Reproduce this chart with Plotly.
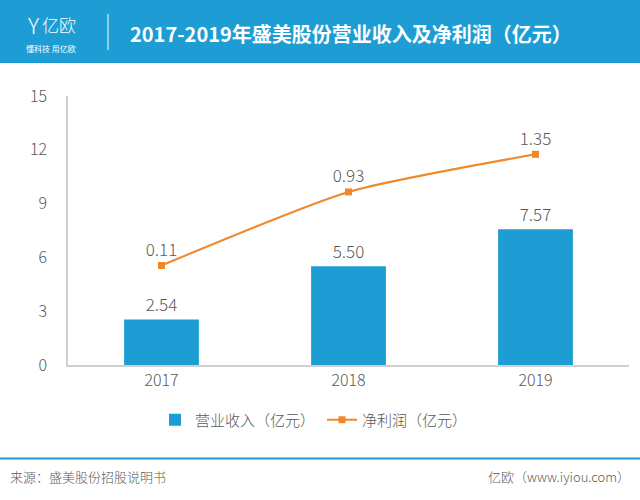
import plotly.graph_objects as go

years = ["2017", "2018", "2019"]
revenue = [2.54, 5.50, 7.57]
profit = [0.11, 0.93, 1.35]
y_ticks = [0, 3, 6, 9, 12, 15]

W, H = 640, 500
L, R, T, B = 68, 11, 96, 135
PW, PH = W - L - R, H - T - B

def px(x):
    return (x - L) / PW

def py(y):
    return (H - B - y) / PH

BLUE = "#1E9DD5"
ORANGE = "#F0872A"
GRAY = "#595959"
FONT = "Noto Sans CJK SC"

fig = go.Figure()
fig.add_trace(go.Bar(
    x=years, y=revenue, name="营业收入（亿元）",
    marker=dict(color=BLUE, line=dict(width=0)),
    text=[f"{v:.2f}" for v in revenue], textposition="outside",
    textfont=dict(size=17, color=GRAY, family=FONT, weight=300),
    cliponaxis=False,
))
fig.add_trace(go.Scatter(
    x=years, y=profit, name="净利润（亿元）", yaxis="y2",
    mode="lines+markers+text",
    line=dict(color=ORANGE, width=2, shape="spline", smoothing=0.6),
    marker=dict(symbol="square", size=7, color=ORANGE),
    text=[f"{v:.2f}" for v in profit], textposition="top center",
    textfont=dict(size=17, color=GRAY, family=FONT, weight=300),
    cliponaxis=False,
))

shapes = [
    dict(type="rect", xref="paper", yref="paper", x0=px(0), x1=px(W), y0=py(0), y1=py(63),
         fillcolor=BLUE, line=dict(width=0), layer="below"),
    dict(type="line", xref="paper", yref="paper", x0=px(108), x1=px(108), y0=py(14), y1=py(50),
         line=dict(color="white", width=1)),
    dict(type="line", xref="paper", yref="paper", x0=px(0), x1=px(W), y0=py(458.5), y1=py(458.5),
         line=dict(color=BLUE, width=2)),
]

def ann(text, x, y, xanchor, size, color, weight=None):
    f = dict(size=size, color=color, family=FONT)
    if weight:
        f["weight"] = weight
    return dict(text=text, x=px(x), y=py(y), xref="paper", yref="paper",
                xanchor=xanchor, yanchor="middle", showarrow=False, font=f)

annotations = [
    ann("<b>2017-2019年盛美股份营业收入及净利润（亿元）</b>", 128, 33, "left", 20, "white"),
    ann("Y", 33, 24, "center", 22, "white", 300),
    ann("亿欧", 40, 25, "left", 17, "white", 300),
    ann("懂科技 用亿欧", 24, 48, "left", 8, "white"),
    ann("来源：盛美股份招股说明书", 8, 476, "left", 13, GRAY, 300),
    ann("亿欧（www.iyiou.com）", 632, 476, "right", 13, GRAY, 300),
]

fig.update_layout(
    width=W, height=H,
    margin=dict(l=L, r=R, t=T, b=B, autoexpand=False),
    paper_bgcolor="white", plot_bgcolor="white",
    bargap=0.6,
    showlegend=True,
    legend=dict(orientation="h", x=px(155), y=py(420), xanchor="left", yanchor="middle",
                font=dict(size=15, color=GRAY, family=FONT, weight=300),
                itemwidth=30, tracegroupgap=0, entrywidthmode="pixels", entrywidth=122),
    xaxis=dict(showgrid=False, showline=True, linecolor="#D0D0D0", linewidth=1.5,
               ticks="", tickfont=dict(size=16, color=GRAY, family=FONT, weight=300)),
    yaxis=dict(range=[0, 15], tickvals=y_ticks, showgrid=False, showline=True,
               linecolor="#D0D0D0", linewidth=1.5, ticks="", zeroline=False,
               tickfont=dict(size=16, color=GRAY, family=FONT, weight=300), ticklabelstandoff=16),
    yaxis2=dict(range=[-1, 2], overlaying="y", visible=False),
    shapes=shapes,
    annotations=annotations,
)

fig.write_html("out.html", config={"displayModeBar": False},
               post_script="document.body.style.margin='0';")
